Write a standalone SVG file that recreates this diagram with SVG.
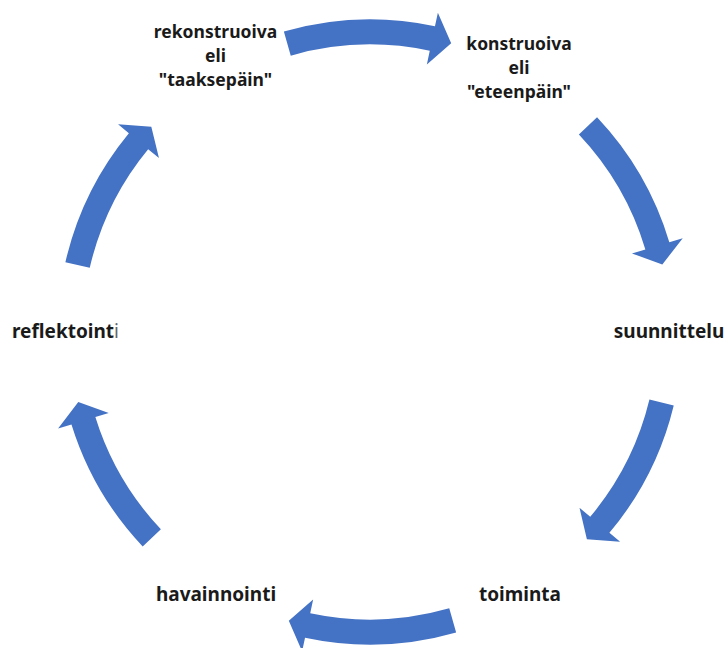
<svg xmlns="http://www.w3.org/2000/svg" width="725" height="648" viewBox="0 0 725 648">
<style>
.lbl{font-family:"Noto Sans","Liberation Sans",sans-serif;font-weight:700;font-size:19px;fill:#1a1a1a;text-anchor:middle}
.ml{font-size:17.5px}
.arr{fill:#4472C4;stroke:none}
</style>
<rect width="725" height="648" fill="#ffffff"/>
<g id="connectors">
<path class="arr" d="M283.86,31.61 A312.5,312.5 0 0 1 434.97,26.33 L437.88,12.63 L451.18,43.19 L426.86,64.48 L429.77,50.78 A287.5,287.5 0 0 0 290.75,55.64 Z"/>
<path class="arr" d="M597.05,117.28 A312.5,312.5 0 0 1 669.32,242.20 L682.73,238.18 L662.31,264.51 L631.96,253.41 L645.37,249.38 A287.5,287.5 0 0 0 578.89,134.46 Z"/>
<path class="arr" d="M673.74,405.48 A312.5,312.5 0 0 1 609.39,532.87 L620.11,541.87 L586.89,539.26 L579.51,507.80 L590.24,516.80 A287.5,287.5 0 0 0 649.44,399.60 Z"/>
<path class="arr" d="M456.14,632.39 A312.5,312.5 0 0 1 305.03,637.67 L302.12,651.37 L288.82,620.81 L313.14,599.52 L310.23,613.22 A287.5,287.5 0 0 0 449.25,608.36 Z"/>
<path class="arr" d="M142.70,546.45 A312.5,312.5 0 0 1 71.47,424.41 L58.10,428.55 L78.29,402.04 L108.73,412.88 L95.36,417.02 A287.5,287.5 0 0 0 160.88,529.29 Z"/>
<path class="arr" d="M65.39,262.23 A312.5,312.5 0 0 1 128.87,133.22 L118.07,124.32 L151.31,126.63 L158.96,158.03 L148.16,149.13 A287.5,287.5 0 0 0 89.76,267.82 Z"/>
</g>
<g id="node-rekonstruoiva">
<text class="lbl ml" x="215.5" y="37.5">rekonstruoiva</text>
<text class="lbl ml" x="215.5" y="61.5">eli</text>
<text class="lbl ml" x="215.5" y="85.5">"taaksepäin"</text>
</g>
<g id="node-konstruoiva">
<text class="lbl ml" x="519" y="50">konstruoiva</text>
<text class="lbl ml" x="519" y="74">eli</text>
<text class="lbl ml" x="519" y="98">"eteenpäin"</text>
</g>
<g id="node-suunnittelu">
<text class="lbl" x="669" y="338">suunnittelu</text>
</g>
<g id="node-toiminta">
<text class="lbl" x="520" y="601">toiminta</text>
</g>
<g id="node-havainnointi">
<text class="lbl" x="216" y="601">havainnointi</text>
</g>
<g id="node-reflektointi">
<text class="lbl" x="65.5" y="338">reflektoint<tspan font-weight="400" fill="#666666">i</tspan></text>
</g>
</svg>
